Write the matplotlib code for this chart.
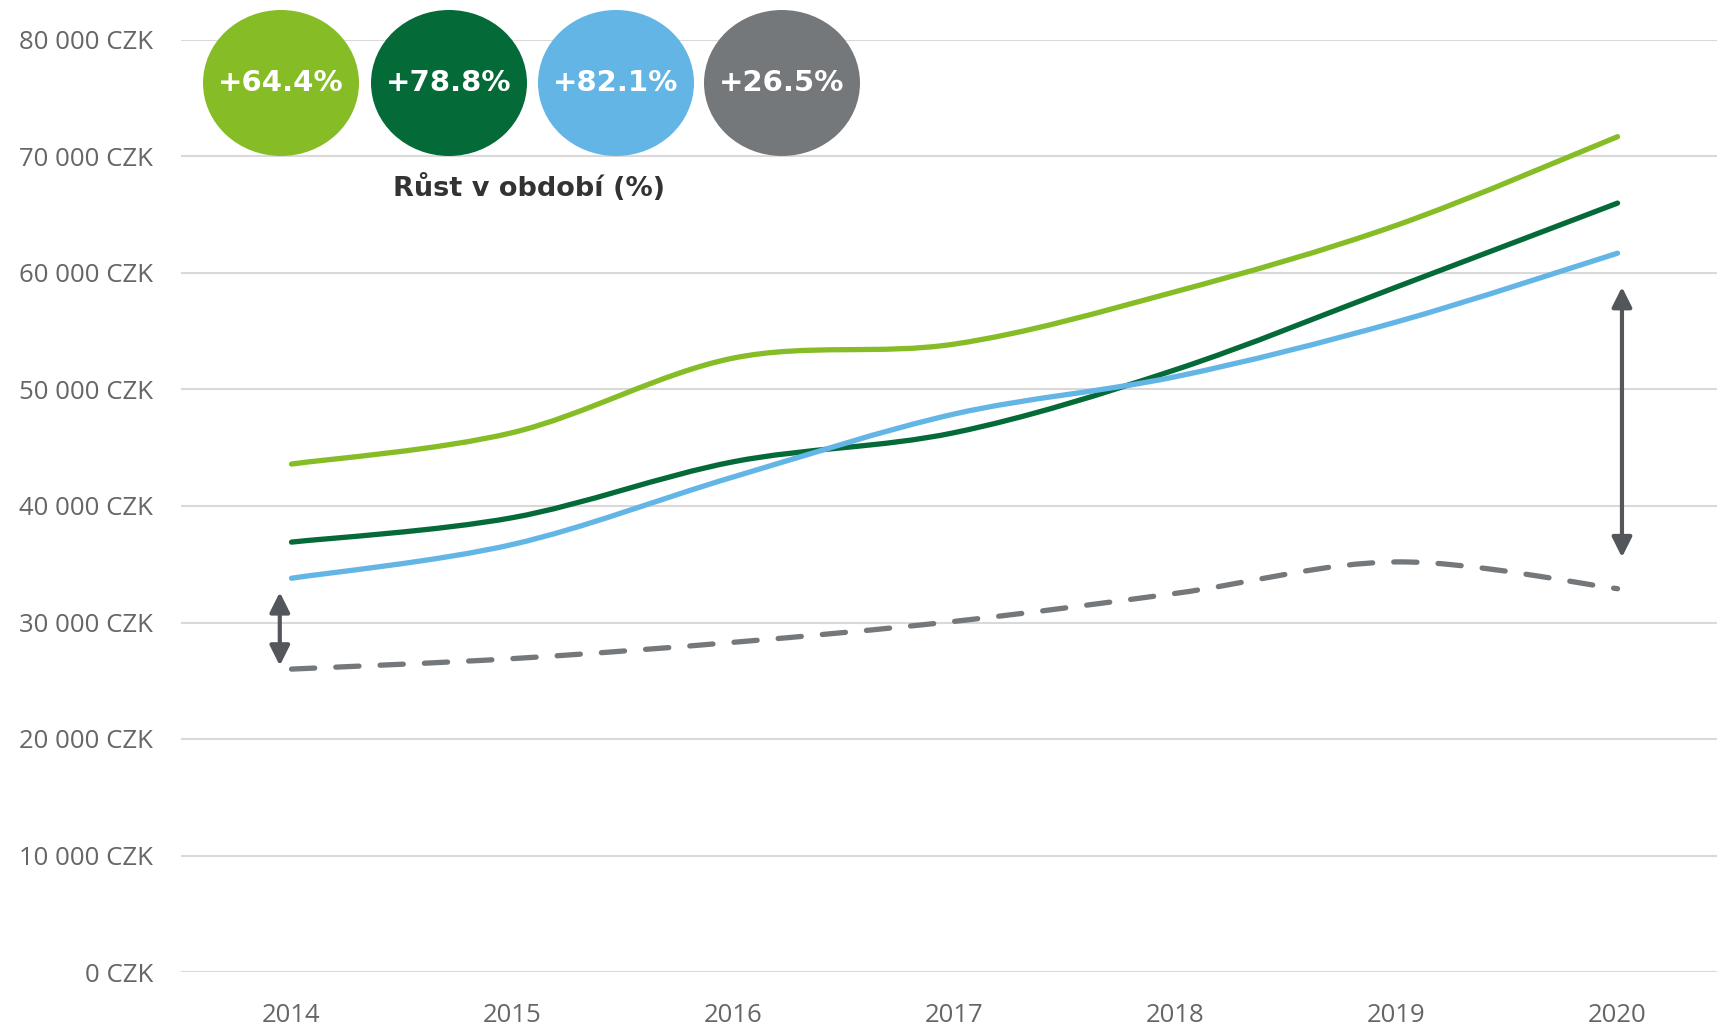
import numpy as np
import matplotlib
matplotlib.use("Agg")
import matplotlib.pyplot as plt
from matplotlib.path import Path
from matplotlib.patches import PathPatch, Ellipse


years = [2014, 2015, 2016, 2017, 2018, 2019, 2020]

light_green = [43600, 46300, 52700, 53900, 58400, 64100, 71700]
dark_green = [36900, 39000, 43800, 46300, 51700, 58800, 66000]
light_blue = [33800, 36700, 42500, 47900, 51100, 55800, 61700]
grey_dashed = [26000, 26900, 28300, 30100, 32500, 35200, 32900]

growth_labels = ["+64.4%", "+78.8%", "+82.1%", "+26.5%"]
growth_title = "Růst v období (%)"

# range covered by the two double arrows
gap_2014 = (26300, 32600)
gap_2020 = (35600, 58800)

yticks = [0, 10000, 20000, 30000, 40000, 50000, 60000, 70000, 80000]
ytick_labels = ["0 CZK", "10 000 CZK", "20 000 CZK", "30 000 CZK", "40 000 CZK",
                "50 000 CZK", "60 000 CZK", "70 000 CZK", "80 000 CZK"]

c_lgreen = "#86bc25"
c_dgreen = "#046a38"
c_blue = "#62b5e5"
c_grey = "#75787b"
c_arrow = "#53565a"


def smooth_path(xs, ys):
    # catmull-rom style bezier through the data points
    pts = np.column_stack([xs, ys]).astype(float)
    n = len(pts)
    verts = [pts[0]]
    codes = [Path.MOVETO]
    for i in range(n - 1):
        p0 = pts[i - 1] if i > 0 else pts[i]
        p1 = pts[i]
        p2 = pts[i + 1]
        p3 = pts[i + 2] if i + 2 < n else pts[i + 1]
        c1 = p1 + (p2 - p0) / 6.0
        c2 = p2 - (p3 - p1) / 6.0
        verts += [c1, c2, p2]
        codes += [Path.CURVE4] * 3
    return Path(verts, codes)


W, H = 1717, 1025
fig = plt.figure(figsize=(W / 100, H / 100), dpi=100)
ax = fig.add_axes([181 / W, 53 / H, 1 - 181 / W, (972 - 40) / H])

ax.set_xlim(2013.5, 2020.45)
ax.set_ylim(0, 80000)

for s in ax.spines.values():
    s.set_visible(False)
ax.set_yticks(yticks)
ax.set_yticklabels(ytick_labels)
ax.set_xticks(years)
ax.set_xticklabels([str(y) for y in years])
ax.tick_params(axis="y", length=0, pad=20, labelsize=18.5, labelcolor="#666666")
ax.tick_params(axis="x", length=0, pad=22, labelsize=18.5, labelcolor="#666666")
for lab in ax.get_xticklabels() + ax.get_yticklabels():
    lab.set_family("Open Sans")
ax.grid(axis="y", color="#d9d9d9", lw=1.5)
ax.set_axisbelow(True)

for vals, col in [(light_green, c_lgreen), (dark_green, c_dgreen), (light_blue, c_blue)]:
    p = PathPatch(smooth_path(years, vals), fill=False, edgecolor=col, lw=3.8,
                  capstyle="round", joinstyle="round")
    ax.add_patch(p)

dash = PathPatch(smooth_path(years, grey_dashed), fill=False, edgecolor=c_grey, lw=3.8,
                 linestyle=(0, (4.4, 4.0)), capstyle="round")
ax.add_patch(dash)

arrow_kw = dict(arrowstyle="<|-|>", color=c_arrow, lw=3, mutation_scale=30,
                shrinkA=0, shrinkB=0)
ax.annotate("", xy=(2013.947, gap_2014[1]), xytext=(2013.947, gap_2014[0]),
            arrowprops=arrow_kw)
ax.annotate("", xy=(2020.02, gap_2020[1]), xytext=(2020.02, gap_2020[0]),
            arrowprops=arrow_kw)

# growth bubbles at the top
centers_x = [281, 449, 616, 782]
cy = 83
for cx, lab, col in zip(centers_x, growth_labels, [c_lgreen, c_dgreen, c_blue, c_grey]):
    e = Ellipse((cx / W, 1 - cy / H), 156 / W, 146 / H, transform=fig.transFigure,
                facecolor=col, edgecolor="none", zorder=5)
    fig.add_artist(e)
    fig.text(cx / W, 1 - cy / H, lab, ha="center", va="center", color="white",
             fontsize=21, fontweight="bold", family="DejaVu Sans", zorder=6)

fig.text(529 / W, 1 - 188 / H, growth_title, ha="center", va="center",
         color="#333333", fontsize=19.5, fontweight="bold", family="DejaVu Sans")

fig.savefig("out.png", dpi=100, facecolor="white")
